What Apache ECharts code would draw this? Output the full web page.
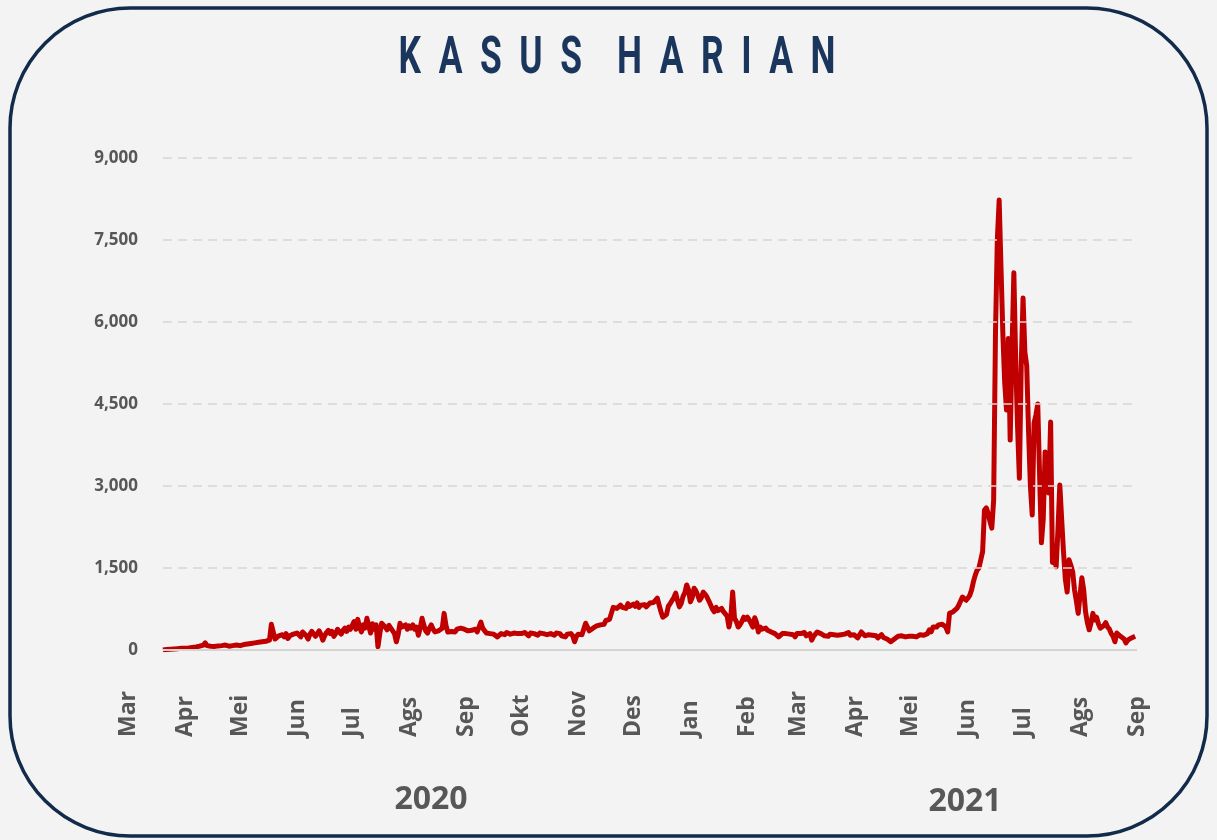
<!DOCTYPE html>
<html>
<head>
<meta charset="utf-8">
<title>Kasus Harian</title>
<script src="https://cdn.jsdelivr.net/npm/echarts@6/dist/echarts.min.js"></script>
<style>
html, body { margin: 0; padding: 0; background: #f3f3f3; }
#chart { width: 1217px; height: 840px; }
</style>
</head>
<body>
<div id="chart"></div>
<script>
/* ---------- data ---------- */
var monthNames = ['Jan', 'Feb', 'Mar', 'Apr', 'Mei', 'Jun', 'Jul', 'Ags', 'Sep', 'Okt', 'Nov', 'Des'];
var gridLevels = [1500, 3000, 4500, 6000, 7500, 9000];
var yearLabels = ['2020', '2021'];
var firstDay = '2020-03-01';   // first month tick
var dataStart = '2020-03-20';  // first reported day
var lastDay = '2021-09-01';    // last month tick

// daily cases, one row per month
var cases2020 = [
	2, 5, 10, 8, 15, 12, 20, 18, 25, 22, 30, 28,
	30, 40, 35, 50, 45, 60, 55, 50, 70, 60, 90, 130, 80, 60, 70, 55, 65, 60, 75, 70, 80, 60, 90, 85, 70, 95, 80, 100, 90, 85,
	80, 70, 100, 90, 110, 95, 120, 100, 130, 110, 140, 120, 150, 130, 160, 140, 180, 470, 490, 200, 180, 260, 230, 280, 240, 300, 210, 260, 230, 290, 270,
	310, 280, 240, 330, 300, 260, 200, 290, 340, 310, 250, 300, 350, 280, 180, 260, 320, 360, 300, 340, 250, 300, 380, 330, 290, 360, 400, 340, 420, 380,
	350, 520, 380, 560, 420, 330, 460, 400, 580, 440, 310, 480, 380, 460, 60, 300, 490, 510, 420, 370, 450, 400, 380, 300, 150, 280, 490, 420, 400, 460, 380,
	440, 400, 460, 380, 420, 270, 400, 580, 450, 350, 310, 400, 460, 380, 330, 360, 350, 370, 400, 670, 450, 330, 320, 340, 310, 330, 380, 360, 400, 420, 380,
	370, 350, 330, 360, 340, 380, 330, 360, 510, 400, 370, 310, 340, 300, 320, 290, 280, 240, 270, 300, 310, 280, 320, 300, 290, 270, 310, 330, 300, 280,
	300, 280, 320, 290, 260, 310, 330, 300, 280, 270, 310, 290, 300, 320, 280, 260, 300, 290, 270, 310, 280, 300, 260, 280, 240, 290, 270, 300, 260, 150, 250,
	290, 260, 280, 300, 490, 420, 350, 380, 400, 420, 440, 410, 460, 450, 470, 540, 550, 560, 540, 780, 800, 760, 790, 820, 780, 800, 760, 850, 800, 820,
	840, 800, 860, 780, 820, 850, 830, 790, 810, 860, 830, 870, 900, 950, 820, 700, 600, 590, 650, 800, 850, 880, 960, 1040, 900, 790, 850, 980, 1050, 1190, 1100
];
var cases2021 = [
	880, 960, 1130, 1080, 1000, 910, 960, 1060, 1020, 970, 900, 880, 750, 700, 780, 720, 690, 760, 700, 730, 620, 420, 600, 1060, 580, 520, 420, 460, 520, 600, 560,
	600, 550, 580, 420, 590, 500, 330, 420, 380, 350, 400, 360, 380, 330, 350, 300, 280, 240, 270, 300, 330, 300, 270, 290, 310, 280, 240, 300,
	270, 300, 280, 320, 260, 250, 300, 180, 250, 290, 330, 340, 300, 270, 260, 280, 250, 290, 310, 280, 250, 270, 300, 280, 260, 290, 300, 320, 270, 240, 280,
	300, 220, 250, 330, 300, 260, 230, 280, 250, 270, 240, 260, 220, 250, 280, 230, 250, 200, 180, 150, 170, 200, 230, 250, 270, 260, 250, 240, 260, 250,
	260, 250, 270, 240, 260, 280, 250, 270, 260, 300, 370, 330, 420, 400, 420, 460, 490, 470, 500, 420, 330, 670, 650, 700, 730, 760, 820, 800, 970, 940, 910,
	950, 1000, 1100, 1250, 1370, 1460, 1500, 1520, 1800, 2560, 2600, 2500, 2350, 2230, 2740, 5800, 7500, 8230, 7000, 5800, 4900, 4390, 5700, 3840, 5500, 6900, 5300, 4100, 3140, 5200,
	6440, 5450, 5200, 4000, 3000, 2470, 4150, 4300, 4500, 3200, 1960, 2400, 3620, 3300, 2870, 4170, 1600, 1700, 1520, 2200, 3020, 2400, 1800, 1300, 1060, 1650, 1550, 1430, 1100, 900, 670,
	1000, 1320, 1100, 700, 500, 370, 500, 670, 550, 600, 480, 400, 370, 450, 500, 420, 380, 300, 250, 150, 310, 280, 250, 230, 200, 130, 180, 150, 220, 200, 250
];

/* ---------- helpers ---------- */
function buildDays(from, to) {
	var out = [];
	var d = new Date(from + 'T00:00:00Z');
	var end = new Date(to + 'T00:00:00Z');
	while (d <= end) {
		out.push(d.toISOString().slice(0, 10));
		d.setUTCDate(d.getUTCDate() + 1);
	}
	return out;
}

var days = buildDays(firstDay, lastDay);
var values = cases2020.concat(cases2021);
var offset = days.indexOf(dataStart);
var seriesData = days.map(function(day, i) {
	var v = values[i - offset];
	return v === undefined ? null : v;
});

// dashed guide lines only run over the reported period
var guideLines = gridLevels.map(function(v) {
	return [{ coord: [dataStart, v] }, { coord: [lastDay, v] }];
});
guideLines.push([
	{ coord: [dataStart, 0], lineStyle: { type: 'solid', color: '#d4d4d4', width: 2 } },
	{ coord: [lastDay, 0] }
]);

var labelFont = '"Open Sans", "Segoe UI", sans-serif';
var gray = '#575757';

/* ---------- chart ---------- */
var myChart = echarts.init(document.getElementById('chart'));
var option = {
	backgroundColor: '#f3f3f3',
	animation: false,
	grid: { left: 128, right: 80, top: 158, bottom: 190 },
	xAxis: {
		type: 'category',
		data: days,
		boundaryGap: false,
		axisLine: { show: false },
		axisTick: { show: false },
		splitLine: { show: false },
		axisLabel: {
			interval: function(i, v) { return v.slice(8) === '01'; },
			formatter: function(v) { return monthNames[parseInt(v.slice(5, 7), 10) - 1]; },
			rotate: 90,
			align: 'left',
			verticalAlign: 'middle',
			margin: 87,
			color: gray,
			fontFamily: labelFont,
			fontWeight: 'bold',
			fontSize: 23
		}
	},
	yAxis: {
		type: 'value',
		min: 0,
		max: 9000,
		interval: 1500,
		axisLine: { show: false },
		axisTick: { show: false },
		splitLine: { show: false },
		axisLabel: {
			margin: -10,
			formatter: function(v) { return v.toLocaleString('en-US'); },
			color: gray,
			fontFamily: labelFont,
			fontWeight: 'bold',
			fontSize: 17
		}
	},
	series: [
		{
			name: 'guides',
			type: 'line',
			data: days.map(function() { return null; }),
			silent: true,
			showSymbol: false,
			z: 1,
			lineStyle: { opacity: 0 },
			markLine: {
				silent: true,
				symbol: ['none', 'none'],
				label: { show: false },
				lineStyle: { type: [9, 6], color: '#d6d6d6', width: 1.5 },
				data: guideLines
			}
		},
		{
			name: 'Kasus Harian',
			type: 'line',
			data: seriesData,
			showSymbol: false,
			z: 3,
			lineStyle: { color: '#c00000', width: 5, join: 'round' }
		}
	],
	graphic: [
		{
			type: 'rect',
			silent: true,
			shape: { x: 10, y: 8, width: 1197, height: 828, r: 120 },
			style: { fill: 'none', stroke: '#132b4b', lineWidth: 3.5 }
		},
		{
			type: 'text',
			x: 617,
			y: 60,
			scaleX: 0.68,
			style: {
				text: 'K  A  S  U  S    H  A  R  I  A  N',
				font: 'bold 52px Roboto, sans-serif',
				fill: '#1b365d',
				align: 'center',
				verticalAlign: 'middle'
			}
		},
		{
			type: 'text',
			x: 431,
			y: 800,
			style: { text: yearLabels[0], font: 'bold 32px ' + labelFont, fill: gray, align: 'center', verticalAlign: 'middle' }
		},
		{
			type: 'text',
			x: 965,
			y: 802,
			style: { text: yearLabels[1], font: 'bold 32px ' + labelFont, fill: gray, align: 'center', verticalAlign: 'middle' }
		}
	]
};
myChart.setOption(option);
</script>
</body>
</html>
